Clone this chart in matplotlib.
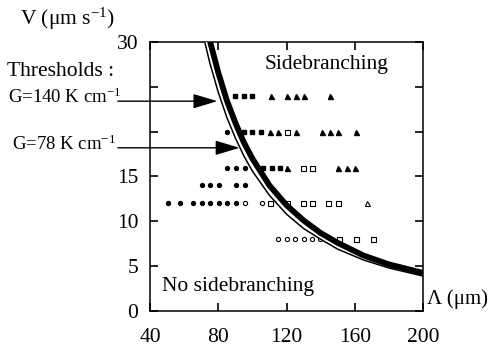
import matplotlib
matplotlib.use("Agg")
import matplotlib.pyplot as plt

plt.rcParams["font.family"] = ["Liberation Serif", "DejaVu Serif"]
plt.rcParams["mathtext.fontset"] = "custom"
plt.rcParams["mathtext.rm"] = "Liberation Serif"
plt.rcParams["mathtext.it"] = "Liberation Serif:italic"

# spacing (um) / velocity (um/s) for each measured state
filled_circle_lam = [85, 85, 90.5, 95.5, 70.5, 75, 80.5, 90.5, 95.5,
                     50.5, 57.5, 65, 70.5, 75, 80.5, 85, 90.5]
filled_circle_v = [20, 16, 16, 16, 14, 14, 14, 14, 14,
                   12, 12, 12, 12, 12, 12, 12, 12]

open_circle_lam = [95.5, 105.5, 115, 120, 125, 130, 135, 139.5]
open_circle_v = [12, 12, 8, 8, 8, 8, 8, 8]

filled_square_lam = [90, 95, 100, 90.5, 95, 100, 105, 101.5, 106.2, 111.5, 116.2]
filled_square_v = [24, 24, 24, 20, 20, 20, 20, 16, 16, 16, 16]

open_square_lam = [120.3, 129.7, 135, 110.5, 120.3, 129.7, 135, 144.5, 150.2,
                   150.8, 160.7, 170.7]
open_square_v = [20, 16, 16, 12, 12, 12, 12, 12, 12, 8, 8, 8]

filled_tri_lam = [111, 120.3, 125.5, 130.3, 145.5,
                  110.3, 115, 125.6, 140.8, 145.5, 150.2, 160.7,
                  120.3, 150.2, 155.5, 160.2]
filled_tri_v = [24, 24, 24, 24, 24,
                20, 20, 20, 20, 20, 20, 20,
                16, 16, 16, 16]

open_tri_lam = [167.2]
open_tri_v = [12]

# threshold curves (thin inner line, thick outer line, white gap between)
thin_lam = [72, 75, 80, 85, 90, 95, 100, 110, 120, 130, 140, 150, 165, 180, 200]
thin_v = [30.1, 27.7, 24.4, 21.6, 19.3, 17.3, 15.6, 12.9, 10.8, 9.2, 8.0, 6.9, 5.7, 4.8, 3.9]
gap_lam = [73, 75, 80, 85, 90, 95, 100, 110, 120, 130, 140, 150, 165]
gap_v = [30.3, 28.7, 25.3, 22.4, 20.0, 17.9, 16.2, 13.4, 11.3, 9.6, 8.3, 7.2, 6.0]
thick_lam = [75, 80, 85, 90, 95, 100, 110, 120, 130, 140, 150, 165, 180, 200]
thick_v = [30.2, 26.6, 23.5, 21.0, 18.8, 17.0, 14.0, 11.8, 10.1, 8.7, 7.6, 6.2, 5.2, 4.25]

# threshold arrows: tail x, tip x, velocity
arrow_tail_lam = [21.2, 21.2]
arrow_tip_lam = [79.5, 92.5]
arrow_v = [23.4, 18.2]

x_ticks = [40, 80, 120, 160, 200]
y_ticks = [0, 5, 10, 15, 20, 25, 30]
y_tick_labels = ["0", "5", "10", "15", "", "", "30"]

W, H = 490, 347
fig = plt.figure(figsize=(W / 100, H / 100), dpi=100)
ax = fig.add_axes([150 / W, 36 / H, 273 / W, 269 / H])

ax.plot(filled_circle_lam, filled_circle_v, "o", ms=2.8, color="black")
ax.plot(open_circle_lam, open_circle_v, "o", ms=3.0, mfc="white", mec="black", mew=0.8)
ax.plot(filled_square_lam, filled_square_v, "s", ms=3.3, color="black")
ax.plot(open_square_lam, open_square_v, "s", ms=3.6, mfc="white", mec="black", mew=0.8)
ax.plot(filled_tri_lam, filled_tri_v, "^", ms=3.6, color="black")
ax.plot(open_tri_lam, open_tri_v, "^", ms=3.6, mfc="white", mec="black", mew=0.8)

ax.plot(gap_lam, gap_v, color="white", lw=3.0, zorder=3)
ax.plot(thick_lam, thick_v, color="black", lw=4.2, solid_capstyle="butt", zorder=4)
ax.plot(thin_lam, thin_v, color="black", lw=1.1, zorder=4)

for tail, tip, v in zip(arrow_tail_lam, arrow_tip_lam, arrow_v):
    ax.annotate("", xy=(tip, v), xytext=(tail, v),
                arrowprops=dict(arrowstyle="-|>,head_length=1.5,head_width=0.45",
                                mutation_scale=10, color="black", lw=1.0,
                                shrinkA=0, shrinkB=0), zorder=5)

ax.set_xlim(40, 200)
ax.set_ylim(0, 30)
ax.set_xticks(x_ticks)
ax.set_yticks(y_ticks)
ax.set_yticklabels(y_tick_labels)
ax.tick_params(direction="in", length=6, width=1.2, top=True, right=True,
               labelsize=15.5)
ax.tick_params(axis="x", pad=12)
ax.tick_params(axis="y", pad=8.5)
for s in ax.spines.values():
    s.set_linewidth(1.1)


def put(x, y, s, fs=15.5):
    fig.text(x / W, 1 - y / H, s, fontsize=fs, va="center", ha="left")


put(20, 19, r"V (μm s$^{\mathregular{-1}}$)")
put(7, 72, "Thresholds :")
put(8, 97, r"G=140 K cm$^{\mathregular{-1}}$", fs=13.5)
put(12, 144, r"G=78 K cm$^{\mathregular{-1}}$", fs=13.5)
put(265, 65, "Sidebranching")
put(162, 287, "No sidebranching")
put(427, 299, "Λ (μm)", fs=15)

fig.savefig("out.png", dpi=100)
